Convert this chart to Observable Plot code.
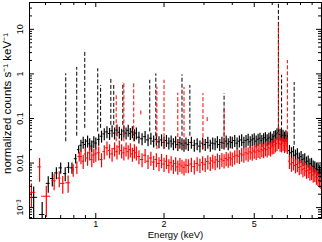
<!DOCTYPE html>
<html><head><meta charset="utf-8">
<script src="https://cdn.jsdelivr.net/npm/d3@7"></script>
<script src="https://cdn.jsdelivr.net/npm/@observablehq/plot@0.6"></script>
<style>body{margin:0;background:#fff} svg{display:block}</style>
</head><body><div id="chart"></div>
<script>
// ---- data ----
const denseEnergy = [0.86,0.88,0.90,0.92,0.94,0.96,0.98,1.00,
 1.03,1.06,1.09,1.12,1.15,1.18,1.21,1.24,1.27,1.30,1.33,1.36,1.39,1.42,1.45,1.48,1.51,
 1.55,1.60,1.65,1.70,1.75,1.80,1.85,1.90,1.95,2.00,2.05,2.10,2.15,2.20,2.25,2.30,2.35,2.40,2.45,2.50,
 2.56,2.64,2.72,2.80,2.88,2.96,3.04,3.12,3.20,3.28,3.36,3.44,3.52,3.60,3.68,3.76,3.84,3.92,4.00,
 4.1,4.2,4.3,4.4,4.5,4.6,4.7,4.8,4.9,5.0,5.1,5.2,5.3,5.4,5.5,5.6,5.7,5.8,5.9,6.0,6.1,6.2,6.3,6.4,6.5,6.6,6.7,6.8,6.9,7.0,
 7.15,7.3,7.45,7.6,7.75,7.9,8.05,8.2,8.35,8.5,8.65,8.8,8.95,9.1,9.25,9.4,9.55,9.7,9.85];
const blackDense = [0.025,0.029,0.026,0.031,0.027,0.024,0.030,0.028,
 0.034,0.040,0.045,0.050,0.046,0.053,0.047,0.055,0.049,0.044,0.052,0.047,0.054,0.046,0.050,0.043,0.047,
 0.038,0.035,0.039,0.033,0.036,0.031,0.034,0.030,0.033,0.029,0.032,0.028,0.031,0.027,0.030,0.026,0.029,0.027,0.025,0.028,
 0.026,0.029,0.025,0.027,0.024,0.028,0.026,0.029,0.025,0.028,0.027,0.030,0.026,0.029,0.028,0.031,0.027,0.030,0.029,
 0.032,0.028,0.031,0.033,0.029,0.032,0.034,0.030,0.033,0.035,0.031,0.034,0.036,0.032,0.035,0.037,0.033,0.036,0.038,0.034,0.039,0.041,0.045,0.048,0.044,0.040,0.042,0.038,0.041,0.036,
 0.019,0.017,0.018,0.015,0.016,0.013,0.014,0.012,0.0125,0.0105,0.011,0.0095,0.0098,0.0085,0.0082,0.0075,0.0072,0.0066,0.0062];
const redDense = [0.014,0.011,0.016,0.013,0.017,0.012,0.015,0.016,
 0.017,0.012,0.018,0.022,0.019,0.016,0.021,0.018,0.023,0.019,0.017,0.021,0.018,0.020,0.016,0.019,0.017,
 0.014,0.012,0.015,0.011,0.013,0.0105,0.012,0.0098,0.0115,0.0095,0.011,0.0088,0.0102,0.0085,0.0097,0.0082,0.0094,0.0086,0.0079,0.0090,
 0.0088,0.0095,0.0083,0.0098,0.0090,0.0102,0.0094,0.0108,0.0099,0.0112,0.0104,0.0118,0.0109,0.0122,0.0113,0.0127,0.0118,0.0131,0.0124,
 0.0138,0.0150,0.0142,0.0160,0.0152,0.0170,0.0161,0.0178,0.0169,0.0186,0.0176,0.0195,0.0184,0.0203,0.0192,0.0212,0.0200,0.0222,0.0210,0.0232,0.0240,0.0258,0.0275,0.031,0.027,0.026,0.028,0.025,0.027,0.024,
 0.011,0.0095,0.0102,0.0088,0.0093,0.0080,0.0084,0.0072,0.0076,0.0066,0.0069,0.0060,0.0062,0.0054,0.0056,0.0049,0.0046,0.0042,0.0039];
const blackRelErr = 0.3;
const redRelErr = 0.35;

const blackLowE    = [0.532, 0.580, 0.617, 0.643, 0.670, 0.700, 0.733, 0.758, 0.785, 0.815, 0.840];
const blackLowV    = [0.0017,0.0007,0.0035,0.0045,0.0060,0.0078,0.0058,0.0080,0.0078,0.0125,0.0200];
const blackLowErr  = [0.0012,0.0006,0.0014,0.0016,0.0018,0.0022,0.0020,0.0022,0.0022,0.0030,0.0040];
const blackLowHalf = [0.022, 0.016, 0.012, 0.012, 0.012, 0.012, 0.012, 0.012, 0.012, 0.012, 0.010];

const redLowE    = [0.520, 0.565, 0.605, 0.655, 0.690, 0.715, 0.755, 0.795, 0.825, 0.845];
const redLowV    = [0.0022,0.0082,0.0018,0.0040,0.0046,0.0035,0.0036,0.0070,0.0080,0.0140];
const redLowErr  = [0.0012,0.0045,0.0012,0.0016,0.0018,0.0015,0.0015,0.0022,0.0025,0.0035];
const redLowHalf = [0.024, 0.010, 0.028, 0.014, 0.012, 0.016, 0.018, 0.012, 0.010, 0.010];

const blackLineE    = [0.737, 0.824, 0.894, 1.02, 1.05, 1.165, 1.20, 1.316, 1.73, 1.84, 2.40, 2.60, 3.68, 6.39, 6.60, 7.50];
const blackLineBase = [0.03,  0.04,  0.06,  0.05, 0.06, 0.07,  0.07, 0.07,  0.05, 0.04, 0.04, 0.04, 0.04, 0.06, 0.05, 0.025];
const blackLineTop  = [1.0,   1.4,   3.4,   1.3,  0.55, 0.80,  0.55, 0.62,  0.72, 1.0,  0.95, 0.55, 0.36, 38,   0.93, 0.64];

const redLineE    = [1.23, 1.33, 1.47, 1.58, 1.86, 2.00, 2.30, 2.45, 2.97, 3.10, 3.68, 6.39, 7.00];
const redLineBase = [0.03, 0.03, 0.03, 0.12, 0.02, 0.02, 0.02, 0.02, 0.02, 0.085,0.02, 0.04, 0.03];
const redLineTop  = [0.33, 0.61, 0.64, 0.16, 0.50, 0.72, 0.37, 0.50, 0.36, 0.11, 0.18, 13.6, 2.0];

const xTickMajor = [1, 2, 5];
const xTickMinor = [0.6, 0.7, 0.8, 0.9, 3, 4, 6, 7, 8, 9];
const yTickMajor = [0.001, 0.01, 0.1, 1, 10];
const yTickLabels = ["10\u207B\u00B3", "0.01", "0.1", "1", "10"];
const yTickMinor = [0.0006, 0.0007, 0.0008, 0.0009];
for (const dec of [0.001, 0.01, 0.1, 1, 10]) for (const m of [2,3,4,5,6,7,8,9]) yTickMinor.push(+(dec*m).toPrecision(3));

// ---- build tables ----
function dense(vals, rel) {
  return denseEnergy.map((e, i) => {
    const prev = i > 0 ? denseEnergy[i-1] : e - (denseEnergy[1] - e);
    const next = i < denseEnergy.length - 1 ? denseEnergy[i+1] : e + (e - denseEnergy[i-1]);
    return {e, v: vals[i], lo: vals[i]*(1-rel), hi: vals[i]*(1+rel), e1: (prev+e)/2, e2: (e+next)/2};
  });
}
function low(E, V, Err, Half) {
  return E.map((e, i) => ({e, v: V[i], lo: Math.max(V[i]-Err[i], 1e-5), hi: V[i]+Err[i], e1: e-Half[i], e2: e+Half[i]}));
}
const blackPts = low(blackLowE, blackLowV, blackLowErr, blackLowHalf).concat(dense(blackDense, blackRelErr));
const redPts = low(redLowE, redLowV, redLowErr, redLowHalf).concat(dense(redDense, redRelErr));
const blackLines = blackLineE.map((e, i) => ({e, b: blackLineBase[i], t: blackLineTop[i]}));
const redLines = redLineE.map((e, i) => ({e, b: redLineBase[i], t: redLineTop[i]}));

const W = 322, Hh = 242, mL = 29, mR = 1, mT = 2, mB = 24;
const PW = W - mL - mR, PH = Hh - mT - mB;

function errMarks(pts, color) {
  return [
    Plot.ruleY(pts, {y: "v", x1: "e1", x2: "e2", stroke: color, strokeWidth: 1, clip: true}),
    Plot.ruleX(pts, {x: "e", y1: "lo", y2: "hi", stroke: color, strokeWidth: 1.2, clip: true})
  ];
}

const chart = Plot.plot({
  width: W, height: Hh,
  marginLeft: mL, marginRight: mR, marginTop: mT, marginBottom: mB,
  style: {fontFamily: "'Liberation Sans', Arial, Helvetica, sans-serif", fontSize: "9px", background: "#fff", overflow: "visible"},
  x: {type: "log", domain: [0.51, 9.9], axis: null},
  y: {type: "log", domain: [0.00057, 40], axis: null},
  marks: [
    ...errMarks(blackPts, "#000"),
    ...errMarks(redPts, "#ff0000"),
    Plot.ruleX(blackLines, {x: "e", y1: "b", y2: "t", stroke: "#000", strokeWidth: 1, strokeDasharray: "4,2", clip: true}),
    Plot.ruleX(redLines, {x: "e", y1: "b", y2: "t", stroke: "#ff0000", strokeWidth: 1, strokeDasharray: "4,2", clip: true}),
    // inward ticks
    Plot.ruleX(xTickMajor, {x: d => d, insetTop: PH - 5, stroke: "#000"}),
    Plot.ruleX(xTickMajor, {x: d => d, insetBottom: PH - 5, stroke: "#000"}),
    Plot.ruleX(xTickMinor, {x: d => d, insetTop: PH - 3, stroke: "#000"}),
    Plot.ruleX(xTickMinor, {x: d => d, insetBottom: PH - 3, stroke: "#000"}),
    Plot.ruleY(yTickMajor, {y: d => d, insetRight: PW - 5, stroke: "#000"}),
    Plot.ruleY(yTickMajor, {y: d => d, insetLeft: PW - 5, stroke: "#000"}),
    Plot.ruleY(yTickMinor, {y: d => d, insetRight: PW - 3, stroke: "#000"}),
    Plot.ruleY(yTickMinor, {y: d => d, insetLeft: PW - 3, stroke: "#000"}),
    Plot.frame({stroke: "#000", strokeWidth: 1}),
    // tick labels
    Plot.text(xTickMajor, {x: d => d, text: d => String(d), frameAnchor: "bottom", dy: 8, fontSize: 9, fill: "#000"}),
    Plot.text(yTickMajor, {y: d => d, text: (d, i) => yTickLabels[i], frameAnchor: "left", textAnchor: "middle", dx: -9, rotate: -90, fontSize: 9, fill: "#000"}),
    // axis titles
    Plot.text(["Energy (keV)"], {frameAnchor: "bottom", dy: 19, fontSize: 9.5, fill: "#000"}),
    Plot.text(["normalized counts s\u207B\u00B9 keV\u207B\u00B9"], {frameAnchor: "left", textAnchor: "middle", dx: -22, dy: -7, rotate: -90, fontSize: 11.5, fill: "#000"})
  ]
});
document.getElementById("chart").appendChild(chart);
</script></body></html>
